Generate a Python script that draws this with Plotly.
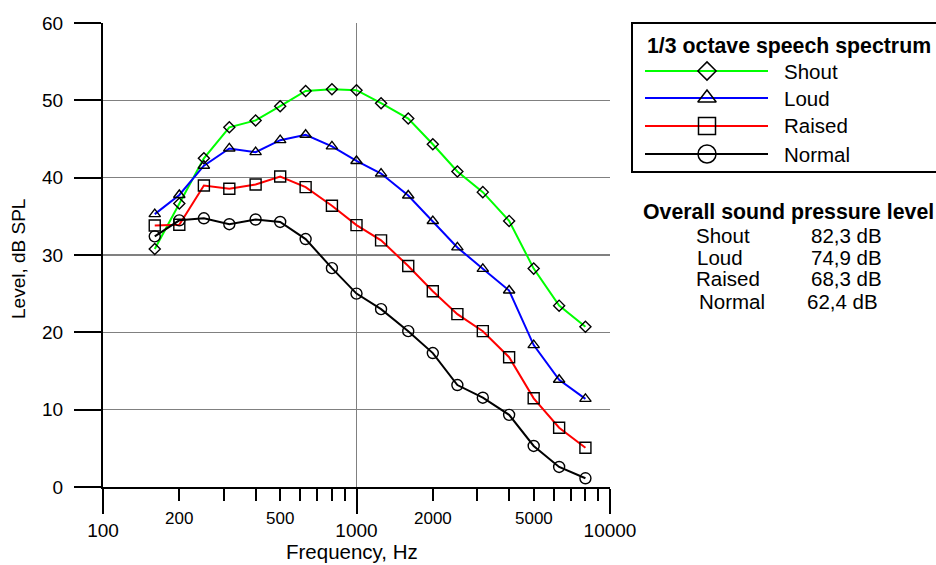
import math
import plotly.graph_objects as go

# 1/3-octave band centre frequencies (Hz)
freqs = [160, 200, 250, 315, 400, 500, 630, 800, 1000, 1250, 1600,
         2000, 2500, 3150, 4000, 5000, 6300, 8000]

# Band levels, dB SPL, for each vocal effort
shout = [30.77, 36.65, 42.50, 46.51, 47.40, 49.24, 51.21, 51.44, 51.31,
         49.63, 47.65, 44.32, 40.80, 38.13, 34.41, 28.24, 23.45, 20.72]
loud = [35.29, 37.76, 41.55, 43.78, 43.30, 44.85, 45.55, 44.05, 42.16,
        40.53, 37.70, 34.39, 30.98, 28.21, 25.41, 18.35, 13.87, 11.39]
raised = [33.81, 33.92, 38.98, 38.57, 39.11, 40.15, 38.78, 36.37, 33.86,
          31.89, 28.58, 25.32, 22.35, 20.15, 16.78, 11.47, 7.67, 5.07]
normal = [32.41, 34.48, 34.75, 33.98, 34.59, 34.27, 32.06, 28.30, 25.01,
          23.00, 20.15, 17.32, 13.18, 11.55, 9.33, 5.31, 2.59, 1.13]

series_names = ["Shout", "Loud", "Raised", "Normal"]
overall_spl = ["82,3 dB", "74,9 dB", "68,3 dB", "62,4 dB"]

x_major_ticks = [100, 1000, 10000]
x_major_labels = ["100", "1000", "10000"]
x_minor_ticks = [200, 300, 400, 500, 600, 700, 800, 900,
                 2000, 3000, 4000, 5000, 6000, 7000, 8000, 9000]
x_minor_labels = [200, 500, 2000, 5000]
y_ticks = [0, 10, 20, 30, 40, 50, 60]

W, H = 936, 565
FONT = "Liberation Sans, Arial, Helvetica, sans-serif"


def px(x):
    return x / W


def py(y):
    return 1 - y / H


colors = ["#00ff00", "#0000ff", "#ff0000", "#000000"]
symbols = ["diamond-open", "triangle-up-open", "square-open", "circle-open"]
plot_sizes = [8.5, 10, 11, 11]
key_sizes = [14, 16, 17, 18]

fig = go.Figure()

for name, vals, col, sym, sz in zip(series_names, [shout, loud, raised, normal],
                                    colors, symbols, plot_sizes):
    fig.add_trace(go.Scatter(
        x=freqs, y=vals, name=name, mode="lines+markers",
        line=dict(color=col, width=2),
        marker=dict(symbol=sym, size=sz, color="black",
                    line=dict(color="black", width=1.4)),
        showlegend=False, cliponaxis=False,
    ))

# Key box drawn on a pixel-space overlay axis
key_rows = [71, 98, 126, 154]
for name, col, sym, sz, yr in zip(series_names, colors, symbols, key_sizes, key_rows):
    fig.add_trace(go.Scatter(
        x=[645, 768], y=[yr, yr], mode="lines", line=dict(color=col, width=2),
        xaxis="x2", yaxis="y2", showlegend=False, hoverinfo="skip",
    ))
    fig.add_trace(go.Scatter(
        x=[707], y=[yr], mode="markers",
        marker=dict(symbol=sym, size=sz, color="black",
                    line=dict(color="black", width=1.5)),
        xaxis="x2", yaxis="y2", showlegend=False, hoverinfo="skip",
        cliponaxis=False,
    ))

annotations = []
for name, yr in zip(series_names, key_rows):
    annotations.append(dict(
        x=px(782), y=py(yr), xref="paper", yref="paper", text=name,
        showarrow=False, xanchor="left", yanchor="middle",
        font=dict(size=20.5, color="black", family=FONT)))
annotations.append(dict(
    x=px(645), y=py(46), xref="paper", yref="paper",
    text="<b>1/3 octave speech spectrum</b>", showarrow=False,
    xanchor="left", yanchor="middle",
    font=dict(size=21.3, color="black", family=FONT)))

# Overall level table
annotations.append(dict(
    x=px(641), y=py(212), xref="paper", yref="paper",
    text="<b>Overall sound pressure level</b>", showarrow=False,
    xanchor="left", yanchor="middle",
    font=dict(size=21.3, color="black", family=FONT)))
table_rows = [235, 257, 279, 301]
name_x = [694, 695, 694, 697]
val_x = [809, 809, 809, 805]
for name, val, yr, nx, vx in zip(series_names, overall_spl, table_rows, name_x, val_x):
    annotations.append(dict(
        x=px(nx), y=py(yr), xref="paper", yref="paper", text=name,
        showarrow=False, xanchor="left", yanchor="middle",
        font=dict(size=20.5, color="black", family=FONT)))
    annotations.append(dict(
        x=px(vx), y=py(yr), xref="paper", yref="paper", text=val,
        showarrow=False, xanchor="left", yanchor="middle",
        font=dict(size=20.5, color="black", family=FONT)))

# Intermediate frequency labels, smaller and raised
for f in x_minor_labels:
    annotations.append(dict(
        x=math.log10(f), y=py(518), xref="x", yref="paper", text=str(f),
        showarrow=False, xanchor="center", yanchor="middle",
        font=dict(size=17, color="black", family=FONT)))

# Axis titles
annotations.append(dict(
    x=px(352), y=py(551), xref="paper", yref="paper", text="Frequency, Hz",
    showarrow=False, xanchor="center", yanchor="middle",
    font=dict(size=20.5, color="black", family=FONT)))
annotations.append(dict(
    x=px(18), y=py(259), xref="paper", yref="paper", text="Level, dB SPL",
    showarrow=False, textangle=-90, xanchor="center", yanchor="middle",
    font=dict(size=19, color="black", family=FONT)))

shapes = [
    # key frame
    dict(type="rect", xref="paper", yref="paper",
         x0=px(632), x1=px(945), y0=py(172), y1=py(23),
         line=dict(color="black", width=2), fillcolor="rgba(0,0,0,0)"),
    # darker 30 dB reference line
    dict(type="line", xref="paper", yref="y", x0=px(103), x1=px(610),
         y0=30, y1=30, line=dict(color="black", width=1), layer="below"),
]

fig.update_layout(
    template="none",
    width=W, height=H,
    margin=dict(l=0, r=0, t=0, b=0, pad=0),
    paper_bgcolor="white", plot_bgcolor="rgba(0,0,0,0)",
    font=dict(family=FONT, color="black"),
    xaxis=dict(
        type="log", range=[2, 4], domain=[px(103), px(610)],
        automargin=False,
        tickmode="array", tickvals=x_major_ticks, ticktext=x_major_labels,
        ticks="outside", ticklen=25, tickwidth=2, tickcolor="black",
        showline=True, linecolor="black", linewidth=2,
        showgrid=True, gridcolor="#808080", gridwidth=1, zeroline=False,
        tickfont=dict(size=19, color="black", family=FONT),
        minor=dict(tickmode="array", tickvals=x_minor_ticks, ticks="outside",
                   ticklen=12, tickwidth=2, tickcolor="black", showgrid=False),
        anchor="y",
    ),
    yaxis=dict(
        range=[0, 60], domain=[py(487), py(23)],
        automargin=False,
        tickmode="array", tickvals=y_ticks,
        ticks="outside", ticklen=27, tickwidth=2, tickcolor="black",
        ticklabelstandoff=7,
        showline=True, linecolor="black", linewidth=2,
        showgrid=True, gridcolor="#808080", gridwidth=1, zeroline=False,
        tickfont=dict(size=19, color="black", family=FONT),
        anchor="x",
    ),
    xaxis2=dict(domain=[0, 1], range=[0, W], visible=False, anchor="y2",
                fixedrange=True, automargin=False),
    yaxis2=dict(domain=[0, 1], range=[H, 0], visible=False, anchor="x2",
                fixedrange=True, automargin=False),
    annotations=annotations,
    shapes=shapes,
)

fig.write_html("out.html")
